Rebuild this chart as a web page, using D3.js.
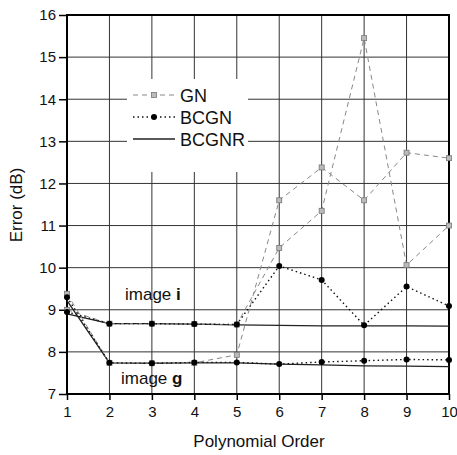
<!DOCTYPE html>
<html>
<head>
<meta charset="utf-8">
<script src="https://cdn.jsdelivr.net/npm/d3@7"></script>
<style>
  body { margin: 0; background: #fff; }
  svg { display: block; font-family: "Liberation Sans", Arial, sans-serif; }
</style>
</head>
<body>
<svg id="chart" width="457" height="455"></svg>
<script>
// polynomial order on x
var orders = [1, 2, 3, 4, 5, 6, 7, 8, 9, 10];
var yTicks = [7, 8, 9, 10, 11, 12, 13, 14, 15, 16];

// image i (upper group)
var gnI     = [9.00, 8.67, 8.67, 8.66, 8.65, 10.47, 11.35, 15.45, 10.06, 11.00];
var bcgnI   = [8.95, 8.67, 8.67, 8.66, 8.65, 10.04, 9.71, 8.63, 9.55, 9.09];
var bcgnrI  = [8.90, 8.67, 8.67, 8.66, 8.64, 8.63, 8.62, 8.62, 8.62, 8.61];

// image g (lower group)
var gnG     = [9.38, 7.74, 7.73, 7.74, 7.93, 11.60, 12.38, 11.60, 12.73, 12.60];
var bcgnG   = [9.30, 7.74, 7.73, 7.75, 7.75, 7.71, 7.76, 7.79, 7.82, 7.81];
var bcgnrG  = [9.22, 7.74, 7.73, 7.74, 7.74, 7.71, 7.69, 7.67, 7.66, 7.65];

var legendNames = ['GN', 'BCGN', 'BCGNR'];

var svg = d3.select('#chart');
var _l = 67, _r = 449, _t = 15, _b = 394;

var x = d3.scaleLinear().domain([1, 10]).range([_l, _r]);
var y = d3.scaleLinear().domain([7, 16]).range([_b, _t]);

// grid
var grid = svg.append('g');
grid.selectAll('line.h').data(yTicks).enter().append('line')
    .attr('x1', _l).attr('x2', _r)
    .attr('y1', function(d) { return y(d); }).attr('y2', function(d) { return y(d); })
    .attr('stroke', '#333').attr('stroke-width', 1);
grid.selectAll('line.v').data(orders).enter().append('line')
    .attr('y1', _t).attr('y2', _b)
    .attr('x1', function(d) { return x(d); }).attr('x2', function(d) { return x(d); })
    .attr('stroke', '#333').attr('stroke-width', 1);

// axes
var yAxis = d3.axisLeft(y).tickValues(yTicks).tickSize(8).tickPadding(3);
var xAxis = d3.axisBottom(x).tickValues(orders).tickSize(6).tickPadding(6);

var gy = svg.append('g').attr('transform', 'translate(' + _l + ',0)').call(yAxis);
var gx = svg.append('g').attr('transform', 'translate(0,' + _b + ')').call(xAxis);
[gx, gy].forEach(function(g) {
    g.select('.domain').remove();
    g.selectAll('line').attr('stroke', '#000').attr('stroke-width', 1.5);
    g.selectAll('text').attr('font-size', '15px').attr('fill', '#111')
     .attr('font-family', '"Liberation Sans", Arial, sans-serif');
});

// frame
svg.append('rect')
    .attr('x', _l).attr('y', _t).attr('width', _r - _l).attr('height', _b - _t)
    .attr('fill', 'none').attr('stroke', '#000').attr('stroke-width', 2);

var line = d3.line()
    .x(function(d, i) { return x(orders[i]); })
    .y(function(d) { return y(d); });

function drawGN(vals) {
    svg.append('path').datum(vals).attr('d', line)
        .attr('fill', 'none').attr('stroke', '#888').attr('stroke-width', 1)
        .attr('stroke-dasharray', '5,4');
    svg.selectAll(null).data(vals).enter().append('rect')
        .attr('x', function(d, i) { return x(orders[i]) - 2.5; })
        .attr('y', function(d) { return y(d) - 2.5; })
        .attr('width', 5).attr('height', 5)
        .attr('fill', '#bbb').attr('stroke', '#777').attr('stroke-width', 0.8);
}
function drawBCGN(vals) {
    svg.append('path').datum(vals).attr('d', line)
        .attr('fill', 'none').attr('stroke', '#111').attr('stroke-width', 1.4)
        .attr('stroke-dasharray', '1.5,3');
    svg.selectAll(null).data(vals).enter().append('circle')
        .attr('cx', function(d, i) { return x(orders[i]); })
        .attr('cy', function(d) { return y(d); })
        .attr('r', 3).attr('fill', '#000');
}
function drawBCGNR(vals) {
    svg.append('path').datum(vals).attr('d', line)
        .attr('fill', 'none').attr('stroke', '#222').attr('stroke-width', 1.3);
}

drawBCGNR(bcgnrI);
drawBCGNR(bcgnrG);
drawGN(gnI);
drawGN(gnG);
drawBCGN(bcgnI);
drawBCGN(bcgnG);

// legend
var lg = svg.append('g');
lg.append('rect').attr('x', 127).attr('y', 79).attr('width', 121).attr('height', 93).attr('fill', '#fff');
var ly = [95, 117, 139];
legendNames.forEach(function(name, i) {
    var yy = ly[i];
    var l = lg.append('line').attr('x1', 133).attr('x2', 175).attr('y1', yy).attr('y2', yy);
    if (i == 0) {
        l.attr('stroke', '#888').attr('stroke-width', 1).attr('stroke-dasharray', '5,4');
        lg.append('rect').attr('x', 151.5).attr('y', yy - 2.5).attr('width', 5).attr('height', 5)
            .attr('fill', '#bbb').attr('stroke', '#777').attr('stroke-width', 0.8);
    } else if (i == 1) {
        l.attr('stroke', '#111').attr('stroke-width', 1.4).attr('stroke-dasharray', '1.5,3');
        lg.append('circle').attr('cx', 154).attr('cy', yy).attr('r', 3).attr('fill', '#000');
    } else {
        l.attr('stroke', '#222').attr('stroke-width', 1.3);
    }
    lg.append('text').attr('x', 180).attr('y', yy + 6.5)
        .attr('font-size', '18px').attr('fill', '#111').text(name);
});

// annotations
svg.append('text').attr('x', 125).attr('y', 300).attr('font-size', '17px').attr('fill', '#111')
    .html('image <tspan font-weight="bold">i</tspan>');
svg.append('text').attr('x', 121).attr('y', 384).attr('font-size', '17px').attr('fill', '#111')
    .html('image <tspan font-weight="bold">g</tspan>');

// axis titles
svg.append('text').attr('x', 259).attr('y', 447).attr('text-anchor', 'middle')
    .attr('font-size', '17px').attr('fill', '#111').text('Polynomial Order');
svg.append('text').attr('transform', 'translate(22,205) rotate(-90)').attr('text-anchor', 'middle')
    .attr('font-size', '17px').attr('fill', '#111').text('Error (dB)');
</script>
</body>
</html>
